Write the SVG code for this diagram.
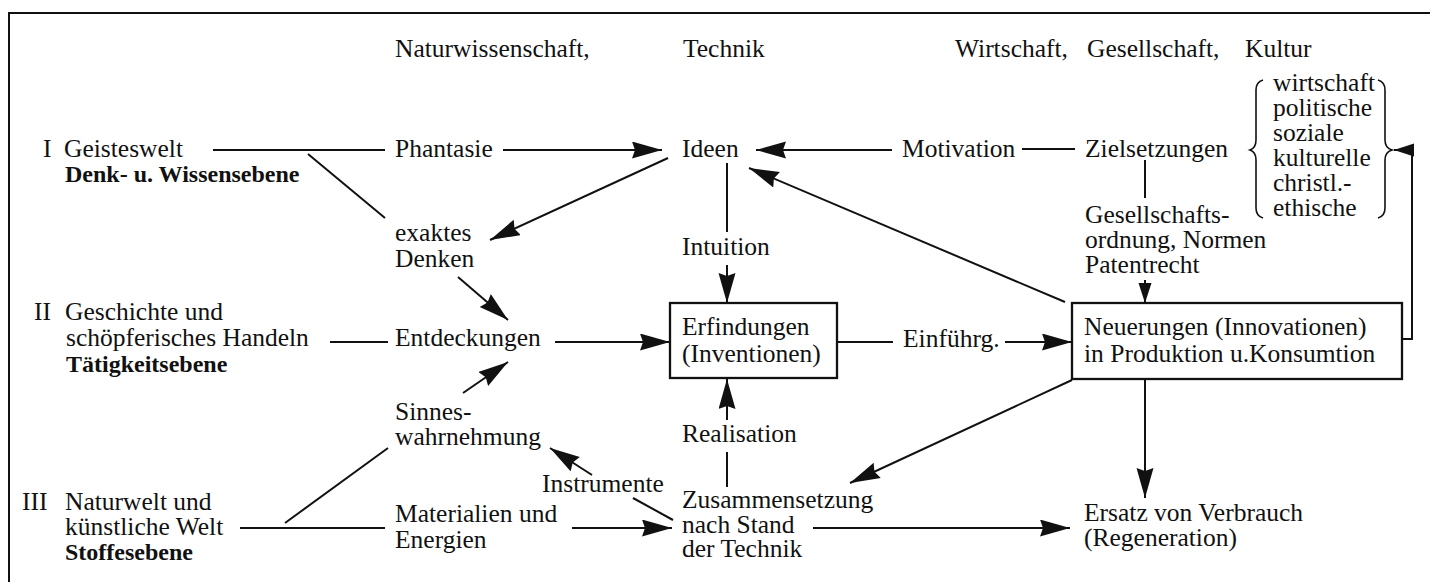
<svg xmlns="http://www.w3.org/2000/svg" width="1430" height="582" viewBox="0 0 1430 582">
<defs>
<marker id="ah" markerUnits="userSpaceOnUse" markerWidth="32" markerHeight="18" refX="30" refY="8.5" orient="auto"><path d="M0,0 L30,8.5 L0,17 L3,8.5 Z" fill="#111"/></marker>
<marker id="ahs" markerUnits="userSpaceOnUse" markerWidth="22" markerHeight="14" refX="20" refY="6.5" orient="auto"><path d="M0,0 L20,6.5 L0,13 Z" fill="#111"/></marker>
</defs>
<style>
text{font-family:"Liberation Serif","Times New Roman",serif;font-size:25.5px;fill:#111}
.b{font-weight:bold;font-size:24px}
.ln{stroke:#111;stroke-width:2;fill:none}
.ar{marker-end:url(#ah)}
.as{marker-end:url(#ahs)}
.box{fill:none;stroke:#111;stroke-width:2.3}
.br{fill:none;stroke:#111;stroke-width:1.6}
</style>
<rect width="1430" height="582" fill="#fff"/>
<g id="frame" class="ln"><path d="M8,13 H1430 M9,13 V582"/></g>

<g id="headers">
<text x="395" y="57">Naturwissenschaft,</text>
<text x="683" y="57">Technik</text>
<text x="955" y="57">Wirtschaft,</text>
<text x="1087" y="57">Gesellschaft,</text>
<text x="1245" y="57">Kultur</text>
</g>

<g id="level1"><text x="43" y="157">I</text><text x="64" y="157">Geisteswelt</text><text class="b" x="65" y="182">Denk- u. Wissensebene</text></g>
<g id="level2"><text x="34" y="320">II</text><text x="65" y="320">Geschichte und</text><text x="66" y="346">schöpferisches Handeln</text><text class="b" x="66" y="372">Tätigkeitsebene</text></g>
<g id="level3"><text x="22" y="510">III</text><text x="65" y="510">Naturwelt und</text><text x="65" y="535">künstliche Welt</text><text class="b" x="65" y="560">Stoffesebene</text></g>

<g id="phantasie"><text x="395" y="157">Phantasie</text></g>
<g id="ideen"><text x="682" y="157">Ideen</text></g>
<g id="motivation"><text x="902" y="157">Motivation</text></g>
<g id="zielsetzungen"><text x="1085" y="157">Zielsetzungen</text></g>
<g id="werte">
<path class="br" d="M1263,80 Q1256,82 1256,90 V140 Q1256,148 1250,150 Q1256,152 1256,160 V208 Q1256,216 1263,218"/>
<text x="1273" y="91">wirtschaft</text>
<text x="1273" y="116">politische</text>
<text x="1273" y="141">soziale</text>
<text x="1273" y="166">kulturelle</text>
<text x="1273" y="191">christl.-</text>
<text x="1273" y="216">ethische</text>
<path class="br" d="M1378,80 Q1385,82 1385,90 V140 Q1385,148 1392,150 Q1385,152 1385,160 V208 Q1385,216 1378,218"/>
</g>
<g id="gesellschaftsordnung"><text x="1085" y="223">Gesellschafts-</text><text x="1085" y="248">ordnung, Normen</text><text x="1085" y="273">Patentrecht</text></g>
<g id="exaktes"><text x="395" y="241">exaktes</text><text x="395" y="267">Denken</text></g>
<g id="intuition"><text x="682" y="255">Intuition</text></g>
<g id="entdeckungen"><text x="395" y="346">Entdeckungen</text></g>
<g id="erfindungen"><rect class="box" x="670" y="303" width="167" height="75"/><text x="682" y="335">Erfindungen</text><text x="682" y="362">(Inventionen)</text></g>
<g id="einfuehrg"><text x="903" y="347">Einführg.</text></g>
<g id="neuerungen"><rect class="box" x="1072" y="303" width="330" height="76"/><text x="1084" y="335">Neuerungen (Innovationen)</text><text x="1084" y="362">in Produktion u.Konsumtion</text></g>
<g id="sinnes"><text x="395" y="420">Sinnes-</text><text x="395" y="445">wahrnehmung</text></g>
<g id="realisation"><text x="682" y="442">Realisation</text></g>
<g id="instrumente"><text x="542" y="492">Instrumente</text></g>
<g id="materialien"><text x="395" y="522">Materialien und</text><text x="395" y="548">Energien</text></g>
<g id="zusammensetzung"><text x="682" y="508">Zusammensetzung</text><text x="682" y="533">nach Stand</text><text x="682" y="557">der Technik</text></g>
<g id="ersatz"><text x="1084" y="521">Ersatz von Verbrauch</text><text x="1084" y="546">(Regeneration)</text></g>

<g id="connectors" class="ln">
<path d="M213,150 H385"/>
<path d="M308,154 L385,218"/>
<path class="ar" d="M503,150 H662"/>
<path class="ar" d="M892,150 H756"/>
<path d="M1022,149 H1075"/>
<path d="M1145,160 V198"/>
<path class="as" d="M1145,280 V303"/>
<path class="as" d="M1402,339 H1412 V150 H1394"/>
<path class="ar" d="M668,158 L490,240"/>
<path class="ar" d="M458,277 L508,320"/>
<path class="ar" d="M463,393 L508,362"/>
<path d="M330,342 H388"/>
<path class="ar" d="M555,342 H670"/>
<path d="M837,342 H893"/>
<path class="ar" d="M1005,342 H1072"/>
<path d="M727,163 V232"/>
<path class="ar" d="M727,265 V303"/>
<path d="M727,487 V452"/>
<path class="ar" d="M727,420 V379"/>
<path class="ar" d="M1065,302 L749,168"/>
<path class="ar" d="M1072,380 L850,483"/>
<path class="ar" d="M1145,379 V498"/>
<path d="M240,528 H385"/>
<path d="M285,523 L388,448"/>
<path class="ar" d="M572,528 H672"/>
<path d="M633,498 L673,520"/>
<path class="ar" d="M592,475 L550,448"/>
<path class="ar" d="M813,528 H1070"/>
</g>
</svg>
